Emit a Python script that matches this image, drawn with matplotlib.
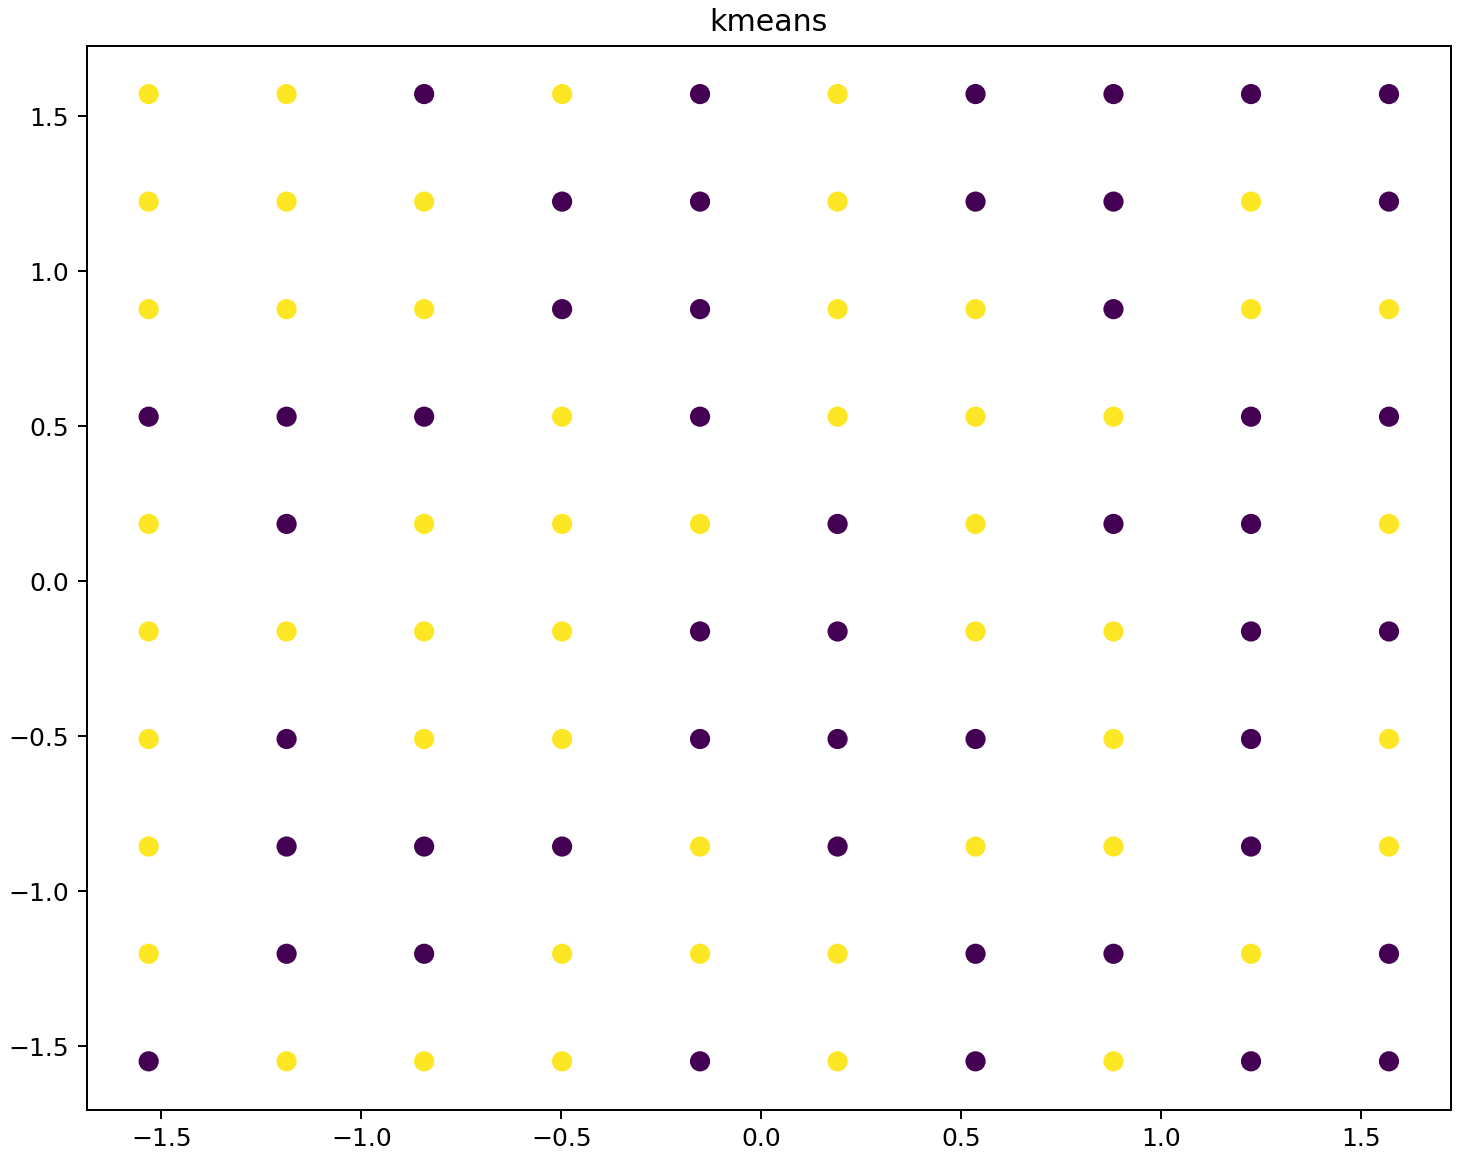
import numpy as np
import matplotlib
matplotlib.use("Agg")
import matplotlib.pyplot as plt

# grid coordinates (standardized)
x_vals = [-1.532, -1.187, -0.843, -0.498, -0.153, 0.191, 0.536, 0.881, 1.225, 1.570]
y_vals = [1.572, 1.225, 0.878, 0.531, 0.185, -0.162, -0.509, -0.856, -1.202, -1.549]

# cluster labels, one row per y value (top to bottom), 0 = purple, 1 = yellow
labels = [
    [1, 1, 0, 1, 0, 1, 0, 0, 0, 0],
    [1, 1, 1, 0, 0, 1, 0, 0, 1, 0],
    [1, 1, 1, 0, 0, 1, 1, 0, 1, 1],
    [0, 0, 0, 1, 0, 1, 1, 1, 0, 0],
    [1, 0, 1, 1, 1, 0, 1, 0, 0, 1],
    [1, 1, 1, 1, 0, 0, 1, 1, 0, 0],
    [1, 0, 1, 1, 0, 0, 0, 1, 0, 1],
    [1, 0, 0, 0, 1, 0, 1, 1, 0, 1],
    [1, 0, 0, 1, 1, 1, 0, 0, 1, 0],
    [0, 1, 1, 1, 0, 1, 0, 1, 0, 0],
]

X, Y = np.meshgrid(x_vals, y_vals)
C = np.array(labels)

fig = plt.figure(figsize=(1471 / 180, 1157 / 180), dpi=180)
ax = fig.add_axes([0.0589, 0.0409, 0.9864 - 0.0589, 0.9605 - 0.0409])
ax.scatter(X.ravel(), Y.ravel(), c=C.ravel(), cmap="viridis", s=50)
ax.set_title("kmeans")

fig.savefig("out.png", dpi=180)
